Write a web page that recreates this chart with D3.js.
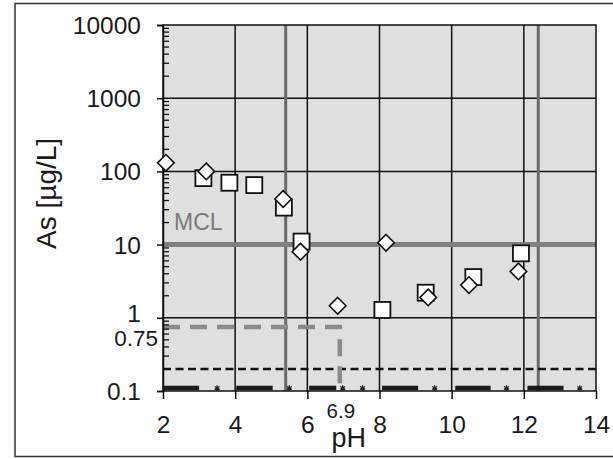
<!DOCTYPE html>
<html>
<head>
<meta charset="utf-8">
<script src="https://d3js.org/d3.v7.min.js"></script>
<style>
  html, body { margin: 0; padding: 0; background: #fff; }
  svg { display: block; font-family: "Liberation Sans", Arial, sans-serif; }
</style>
</head>
<body>
<svg id="chart" width="613" height="459"></svg>
<script>
// Arsenic concentration vs. pH (log scale)
const diamondPH   = [2.08, 3.2, 5.33, 5.81, 6.84, 8.18, 9.35, 10.48, 11.85];
const diamondAs   = [131, 100, 42, 8.0, 1.46, 10.6, 1.9, 2.8, 4.3];
const squarePH    = [3.12, 3.84, 4.53, 5.35, 5.84, 8.08, 9.28, 10.6, 11.92];
const squareAs    = [81, 70, 65, 32, 11, 1.28, 2.2, 3.6, 7.6];

// non-detect runs along the bottom of the plot
const ndStart     = [2.0, 4.03, 6.05, 8.07, 10.1, 12.1];
const ndEnd       = [3.0, 5.04, 6.8, 9.07, 11.08, 13.1];
const ndMarkPH    = [3.5, 5.5, 6.98, 7.53, 9.53, 11.52, 13.55];
const ndValue     = 0.11;

const mcl         = 10;     // maximum contaminant level
const detLimit    = 0.2;    // detection limit
const critAs      = 0.75;   // threshold concentration
const critPH      = 6.9;    // pH at threshold
const refPH       = [5.4, 12.4];

const xTicks      = [2, 4, 6, 8, 10, 12, 14];
const xGrid       = [4, 6, 8, 10, 12];
const yTicks      = [0.1, 1, 10, 100, 1000, 10000];
const yTickLabels = ["0.1", "1", "10", "100", "1000", "10000"];
const yGrid       = [1, 10, 100, 1000];

const svg = d3.select("#chart");

// outer frame
svg.append("rect")
  .attr("x", 15).attr("y", 3.5).attr("width", 640).attr("height", 453)
  .attr("fill", "#fff").attr("stroke", "#333").attr("stroke-width", 1.5);

const x = d3.scaleLinear().domain([2, 14]).range([163, 596]);
const y = d3.scaleLog().domain([0.1, 10000]).range([391, 25]);

// plot background
svg.append("rect")
  .attr("x", x(2)).attr("y", y(10000))
  .attr("width", x(14) - x(2)).attr("height", y(0.1) - y(10000))
  .attr("fill", "#dfdfdf");

// grid
svg.append("g").selectAll("line").data(yGrid).join("line")
  .attr("x1", x(2)).attr("x2", x(14))
  .attr("y1", d => y(d)).attr("y2", d => y(d))
  .attr("stroke", "#111").attr("stroke-width", 1.5);
svg.append("g").selectAll("line").data(xGrid).join("line")
  .attr("x1", d => x(d)).attr("x2", d => x(d))
  .attr("y1", y(0.1)).attr("y2", y(10000))
  .attr("stroke", "#111").attr("stroke-width", 1.5);

// reference pH lines
svg.append("g").selectAll("line").data(refPH).join("line")
  .attr("x1", d => x(d)).attr("x2", d => x(d))
  .attr("y1", y(0.1)).attr("y2", y(10000))
  .attr("stroke", "#6a6a6a").attr("stroke-width", 3);

// MCL line
svg.append("line")
  .attr("x1", x(2)).attr("x2", x(14))
  .attr("y1", y(mcl)).attr("y2", y(mcl))
  .attr("stroke", "#808080").attr("stroke-width", 5);
svg.append("text")
  .attr("x", x(2) + 11).attr("y", y(mcl) - 15)
  .attr("font-size", 23).attr("fill", "#7a7a7a").text("MCL");

// detection limit
svg.append("line")
  .attr("x1", x(2)).attr("x2", x(14))
  .attr("y1", y(detLimit)).attr("y2", y(detLimit))
  .attr("stroke", "#111").attr("stroke-width", 2.5)
  .attr("stroke-dasharray", "8,4.5");

// non-detect runs
svg.append("g").selectAll("line").data(ndStart).join("line")
  .attr("x1", d => x(d)).attr("x2", (d, i) => x(ndEnd[i]))
  .attr("y1", y(ndValue)).attr("y2", y(ndValue))
  .attr("stroke", "#1a1a1a").attr("stroke-width", 4.5);
svg.append("g").selectAll("path").data(ndMarkPH).join("path")
  .attr("transform", d => `translate(${x(d)},${y(ndValue)})`)
  .attr("d", d3.symbol(d3.symbolAsterisk, 22))
  .attr("fill", "none").attr("stroke", "#222").attr("stroke-width", 1.2);

// threshold dashed guide
const crit = d3.path();
crit.moveTo(x(2), y(critAs));
crit.lineTo(x(critPH), y(critAs));
crit.lineTo(x(critPH), y(0.1));
svg.append("path")
  .attr("d", crit.toString())
  .attr("fill", "none").attr("stroke", "#8a8a8a").attr("stroke-width", 4.5)
  .attr("stroke-dasharray", "17,10");

// plot border
svg.append("rect")
  .attr("x", x(2)).attr("y", y(10000))
  .attr("width", x(14) - x(2)).attr("height", y(0.1) - y(10000))
  .attr("fill", "none").attr("stroke", "#111").attr("stroke-width", 1.5);

// y axis: minor ticks inside, major ticks outside
const minor = [];
for (let e = -1; e < 4; e++) for (let m = 2; m <= 9; m++) minor.push(m * Math.pow(10, e));
svg.append("g").selectAll("line").data(minor).join("line")
  .attr("x1", x(2)).attr("x2", x(2) + 6)
  .attr("y1", d => y(d)).attr("y2", d => y(d))
  .attr("stroke", "#111").attr("stroke-width", 1.3);

const yAxis = svg.append("g")
  .attr("transform", `translate(${x(2)},0)`)
  .call(d3.axisLeft(y).tickValues(yTicks)
    .tickFormat((d, i) => yTickLabels[i]).tickSize(6).tickPadding(16));
yAxis.select(".domain").attr("stroke", "#111").attr("stroke-width", 1.5);
yAxis.selectAll(".tick line").attr("stroke", "#111").attr("stroke-width", 1.5);
yAxis.selectAll(".tick text")
  .attr("font-size", 24.5).attr("fill", "#1a1a1a")
  .attr("font-family", "Liberation Sans, Arial, sans-serif")
  .attr("dy", d => d === 1 ? "0.14em" : "0.35em");

svg.append("text")
  .attr("x", x(2) - 5).attr("y", y(critAs) + 19)
  .attr("text-anchor", "end").attr("font-size", 22.5).attr("fill", "#1a1a1a")
  .text("0.75");

// x axis
const xAxis = svg.append("g")
  .attr("transform", `translate(0,${y(0.1)})`)
  .call(d3.axisBottom(x).tickValues(xTicks).tickSize(8).tickPadding(17));
xAxis.select(".domain").remove();
xAxis.selectAll(".tick line").attr("stroke", "#111").attr("stroke-width", 1.5);
xAxis.selectAll(".tick text")
  .attr("font-size", 24.5).attr("fill", "#1a1a1a")
  .attr("font-family", "Liberation Sans, Arial, sans-serif");

svg.append("text")
  .attr("x", x(critPH) + 1).attr("y", 418)
  .attr("text-anchor", "middle").attr("font-size", 20.5).attr("fill", "#1a1a1a")
  .text("6.9");
svg.append("text")
  .attr("x", x(7.15)).attr("y", 447)
  .attr("text-anchor", "middle").attr("font-size", 27).attr("fill", "#1a1a1a")
  .text("pH");

svg.append("text")
  .attr("transform", `translate(56,${y(50)}) rotate(-90)`)
  .attr("text-anchor", "middle").attr("font-size", 28).attr("fill", "#1a1a1a")
  .text("As [µg/L]");

// markers
const sq = 16;
svg.append("g").selectAll("rect").data(squarePH).join("rect")
  .attr("x", d => x(d) - sq / 2)
  .attr("y", (d, i) => y(squareAs[i]) - sq / 2)
  .attr("width", sq).attr("height", sq)
  .attr("fill", "#fff").attr("stroke", "#111").attr("stroke-width", 1.8);

const dm = 8.3;
svg.append("g").selectAll("path").data(diamondPH).join("path")
  .attr("d", (d, i) => {
    const cx = x(d), cy = y(diamondAs[i]);
    return `M${cx},${cy - dm}L${cx + dm},${cy}L${cx},${cy + dm}L${cx - dm},${cy}Z`;
  })
  .attr("fill", "#fff").attr("stroke", "#111").attr("stroke-width", 1.6);
</script>
</body>
</html>
